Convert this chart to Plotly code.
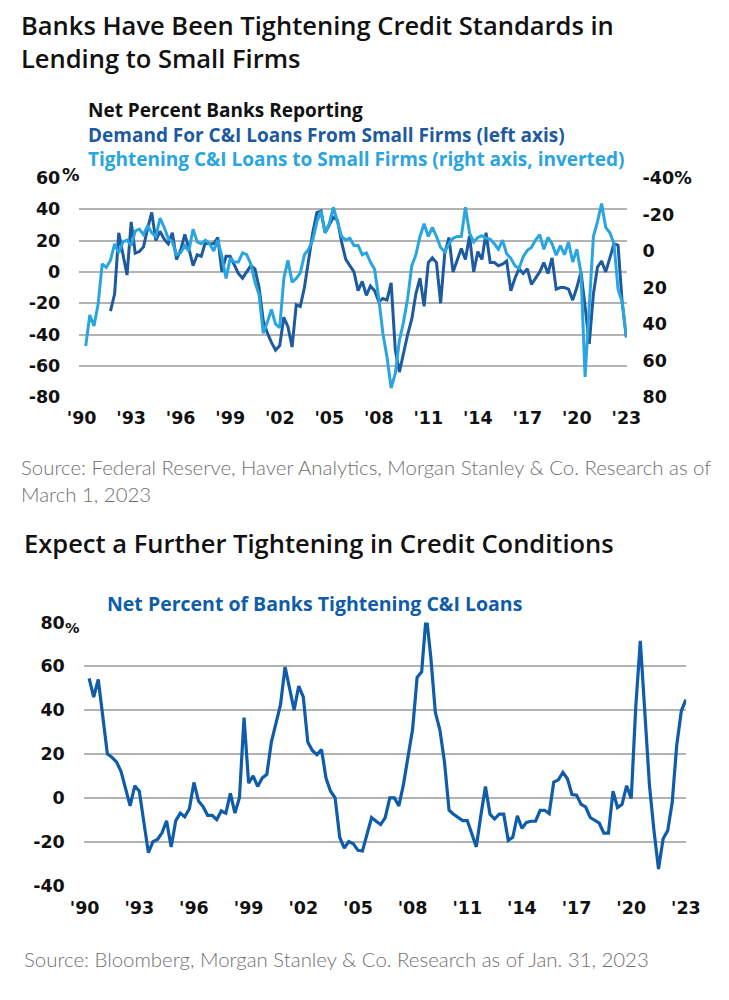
import pandas as pd
import plotly.graph_objects as go

# ---------------- data (quarterly) ----------------
demand_start = "1991-10-01"
demand_small = [
    -25,
    -14, 25, 12, -2,
    32, 12, 13, 16,
    28, 38, 20, 26,
    21, 18, 25, 8,
    14, 24, 15, 4,
    11, 10, 19, 18,
    18, 22, 0, 10,
    10, 5, -1, -4,
    0, 4, 2, -10,
    -31, -39, -45, -50,
    -47, -29, -35, -48,
    -21, -22, -10, 8,
    25, 38, 39, 25,
    30, 35, 33, 19,
    8, 4, 0, -12,
    -6, -15, -9, -12,
    -19, -17, -18, -7,
    -50, -64, -52, -40,
    -30, -14, -4, -22,
    6, 9, 6, -20,
    12, 22, 0, 8,
    15, 8, 23, 0,
    13, 8, 25, 6,
    6, 4, 5, 7,
    -12, -4, 2, -1,
    2, -8, -4, 0,
    6, -1, 9, -11,
    -10, -10, -11, -18,
    -10, 0, -22, -46,
    -14, 3, 7, 0,
    9, 18, 17, -20,
    -42,
]

tight_small_start = "1990-04-01"
tight_small = [
    52, 35, 41,
    29, 7, 9, 5,
    -4, 1, -5, -6,
    -3, -11, -12, -9,
    -14, -10, -8, -18,
    -13, -7, -5, 2,
    1, -3, 0, -12,
    -5, -4, -6, -4,
    0, -6, 3, 15,
    4, 6, 6, 1,
    2, 7, 17, 24,
    45, 39, 32, 40,
    42, 15, 5, 17,
    15, 12, 2, -1,
    -6, -16, -22, -10,
    -15, -24, -16, -8,
    -6, -7, -3, -3,
    2, 1, 6, 10,
    26, 45, 58, 75,
    67, 49, 39, 26,
    8, 2, -8, -15,
    -8, -13, -8, -2,
    0.5, -4, -7, -8,
    -8, -24, -10, -5,
    -7.5, -8.4, -7, -6.6,
    -4, -1, -6, 1.4,
    4, 8, 9.5, 3,
    -0.4, -2, -6, -9,
    -1, -7.5, -4, 2.3,
    -3, 2, -5, 6,
    -1, 12, 69, 29,
    -8, -16, -26, -13,
    -10, -4, 21, 28,
    47,
]

tight_all_start = "1990-04-01"
tight_all = [
    54.5, 46, 54,
    37, 20, 18.5, 16.4,
    12, 4, -3.7, 5.5,
    3, -11, -25, -20,
    -19, -16, -10.5, -22.5,
    -10.5, -7, -8.7, -5,
    7, -1.5, -4, -8,
    -8, -10, -6, -7,
    2, -7, 0, 36.6,
    6.7, 10, 5.2, 9,
    10.7, 25.4, 33.6, 42.5,
    59.7, 50, 40, 51,
    46, 25.4, 21.6, 19.7,
    22, 9, 3, 0,
    -18, -23, -20, -21,
    -24, -24.3, -16.4, -9,
    -10.7, -12.2, -9, 0,
    0, -3.7, 6, 18.7,
    31.3, 55, 57.5, 83.6,
    64, 39, 31, 16.4,
    -5.7, -7.5, -9, -10.4,
    -10.4, -16, -22.4, -8,
    5.2, -7.5, -9.7, -7.5,
    -7.5, -19.4, -18, -8.2,
    -13.9, -11.2, -10.7, -10.7,
    -5.7, -5.7, -7.2, 7.2,
    8.2, 11.6, 8.7, 1.5,
    1.2, -3, -4.2, -9,
    -10.4, -11.6, -16.1, -16.1,
    3, -4.5, -3, 5.5,
    -0.3, 41.5, 71.6, 37,
    5.5, -15, -32.5, -18.7,
    -15, -2.2, 24, 39.6,
    44.8,
]

year_ticks = [1990, 1993, 1996, 1999, 2002, 2005, 2008, 2011, 2014, 2017, 2020, 2023]
year_labels = ["'90", "'93", "'96", "'99", "'02", "'05", "'08", "'11", "'14", "'17", "'20", "'23"]

top_left_ticks = [-80, -60, -40, -20, 0, 20, 40, 60]
top_left_labels = ["-80", "-60", "-40", "-20", "0", "20", "40", "60"]
top_right_ticks = [-40, -20, 0, 20, 40, 60, 80]
top_right_labels = ["-40%", "-20", "0", "20", "40", "60", "80"]
bottom_ticks = [-40, -20, 0, 20, 40, 60, 80]
bottom_labels = ["-40", "-20", "0", "20", "40", "60", "80"]

# ---------------- styling ----------------
DARK = "#1d5a9e"
LIGHT = "#29a5df"
BOTTOM = "#0f5ca8"
GRID = "#b3b3b3"
SRC = "#707070"
HEAD = "'Open Sans', 'Noto Sans', sans-serif"
TICK = "'DejaVu Sans', 'Open Sans', sans-serif"
LIGHTFONT = "Lato, 'Open Sans', sans-serif"
W, H = 729, 1000


def qdates(start, n):
    return pd.date_range(start, periods=n, freq="QS")


def px(x):
    return x / W


def py(y):
    return 1 - y / H


fig = go.Figure()

fig.add_trace(go.Scatter(
    x=qdates(tight_small_start, len(tight_small)), y=tight_small,
    xaxis="x", yaxis="y2", mode="lines",
    line=dict(color=LIGHT, width=3), showlegend=False,
    name="Tightening C&I Loans to Small Firms",
))
fig.add_trace(go.Scatter(
    x=qdates(demand_start, len(demand_small)), y=demand_small,
    xaxis="x", yaxis="y", mode="lines",
    line=dict(color=DARK, width=3), showlegend=False,
    name="Demand For C&I Loans From Small Firms",
))
fig.add_trace(go.Scatter(
    x=qdates(tight_all_start, len(tight_all)), y=tight_all,
    xaxis="x2", yaxis="y3", mode="lines",
    line=dict(color=BOTTOM, width=3.2), showlegend=False,
    name="Net Percent of Banks Tightening C&I Loans",
))

tickfont = dict(family=TICK, size=17.5, color="#111111", weight=700)
tickvals_dates = [f"{y}-01-01" for y in year_ticks]

fig.update_layout(
    width=W, height=H,
    margin=dict(l=0, r=0, t=0, b=0),
    paper_bgcolor="white", plot_bgcolor="white",
    hovermode=False,
    xaxis=dict(
        domain=[px(68), px(638)], anchor="y", type="date",
        range=["1989-11-10", "2023-01-06"],
        tickvals=tickvals_dates, ticktext=year_labels,
        showgrid=False, showline=False, zeroline=False, ticks="",
        tickfont=tickfont, ticklabelstandoff=8,
    ),
    yaxis=dict(
        domain=[py(395), py(171.5)], anchor="x",
        range=[-80, 60], tickvals=top_left_ticks, ticktext=top_left_labels,
        showgrid=True, gridcolor=GRID, gridwidth=1.5, zeroline=False,
        showline=False, ticks="", tickfont=tickfont, ticklabelstandoff=18,
    ),
    yaxis2=dict(
        overlaying="y", side="right", anchor="x",
        range=[80, -40], tickvals=top_right_ticks, ticktext=top_right_labels,
        showgrid=False, zeroline=False, showline=False, ticks="",
        tickfont=tickfont, ticklabelstandoff=15,
    ),
    xaxis2=dict(
        domain=[px(72.7), px(700)], anchor="y3", type="date",
        range=["1989-12-15", "2023-01-06"],
        tickvals=tickvals_dates, ticktext=year_labels,
        showgrid=False, showline=False, zeroline=False, ticks="",
        tickfont=tickfont, ticklabelstandoff=10,
    ),
    yaxis3=dict(
        domain=[py(893.3), py(625)], anchor="x2",
        range=[-40, 80], tickvals=bottom_ticks, ticktext=bottom_labels,
        showgrid=True, gridcolor=GRID, gridwidth=1.5, zeroline=False,
        showline=False, ticks="", tickfont=tickfont, ticklabelstandoff=18,
    ),
)


def note(text, x, y, size, family=HEAD, color="#111111", weight=400, anchor="left"):
    fig.add_annotation(
        text=text, x=px(x), y=py(y), xref="paper", yref="paper",
        xanchor=anchor, yanchor="middle", showarrow=False, align="left",
        font=dict(family=family, size=size, color=color, weight=weight),
    )


note("Banks Have Been Tightening Credit Standards in<br>Lending to Small Firms",
     5, 32.5, 25.5, weight=600)
note("Net Percent Banks Reporting<br>"
     f"<span style='color:{DARK}'>Demand For C&I Loans From Small Firms (left axis)</span><br>"
     f"<span style='color:{LIGHT}'>Tightening C&I Loans to Small Firms (right axis, inverted)</span>",
     75, 127.5, 19, weight=700)
note("%", 48, 168, 17.5, family=TICK, weight=700)
note("Source: Federal Reserve, Haver Analytics, Morgan Stanley & Co. Research as of<br>March 1, 2023",
     5, 480, 20.4, family=LIGHTFONT, color=SRC, weight=300)
note("Expect a Further Tightening in Credit Conditions", 8, 544, 25.5, weight=600)
note("Net Percent of Banks Tightening C&I Loans", 95, 606, 19.5, color=BOTTOM, weight=700)
note("%", 51.5, 631, 14.5, family=TICK, weight=700)
note("Source: Bloomberg, Morgan Stanley & Co. Research as of Jan. 31, 2023",
     8, 968, 20.4, family=LIGHTFONT, color=SRC, weight=300)

fig.write_html(
    "out.html",
    config={"displayModeBar": False},
    post_script="document.body.style.margin='0';document.body.style.overflow='hidden';",
)
